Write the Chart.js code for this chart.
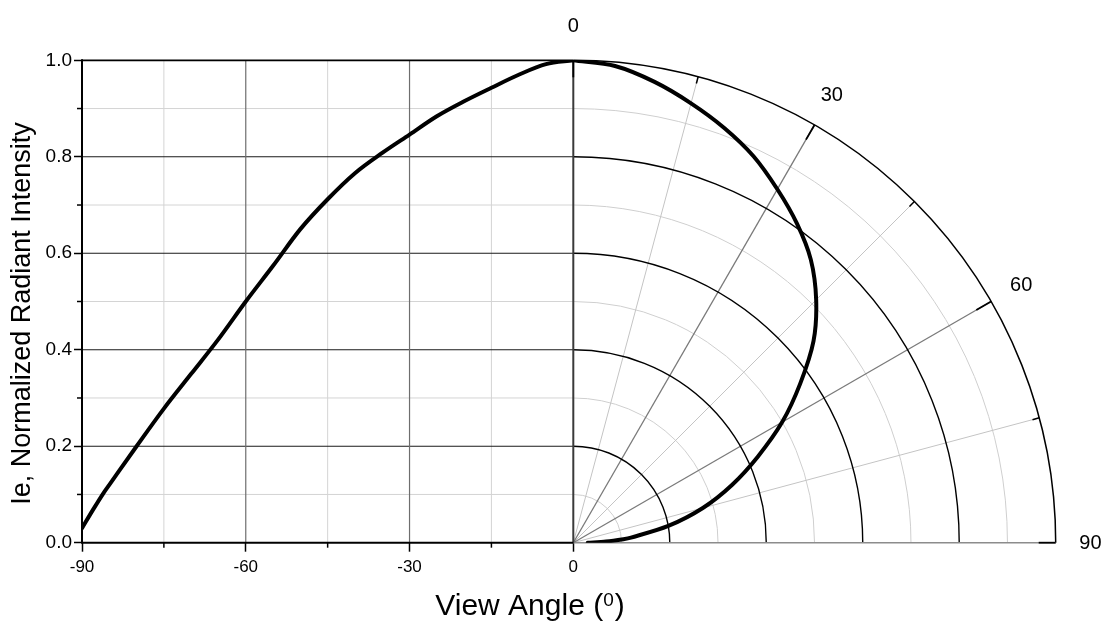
<!DOCTYPE html>
<html>
<head>
<meta charset="utf-8">
<script src="https://cdn.jsdelivr.net/npm/chart.js@4.4.1/dist/chart.umd.min.js"></script>
<style>
  html, body { margin: 0; padding: 0; background: #ffffff; }
  canvas { display: block; }
</style>
</head>
<body>
<canvas id="c" width="1103" height="624"></canvas>
<script>
// ---- data ----
const angles    = [-90, -88, -86, -85, -80, -75, -70, -65, -60, -55, -50, -45, -40, -35, -30, -25, -20, -15, -10, -5, 0];
const intensity = [0.03, 0.068, 0.104, 0.12, 0.20, 0.278, 0.35, 0.422, 0.50, 0.574, 0.65, 0.712, 0.766, 0.808, 0.846, 0.884, 0.915, 0.943, 0.97, 0.992, 1.0];
const xTickValues = [-90, -60, -30, 0];
const xMinorTicks = [-75, -45, -15];
const yTickStep = 0.2;
const polarLabels = ['0', '30', '60', '90'];
const polarLabelAngles = [0, 30, 60, 90];
const yTitle = 'Ie, Normalized Radiant Intensity';
const xTitle = 'View Angle (';
const xTitleSup = '0';
const xTitleEnd = ')';

// ---- layout constants (pixels) ----
const W = 1103, H = 624;
const PX_LEFT = 82, PX_ZERO = 573.3, PX_TOP = 60.3, PX_BOTTOM = 542.7;
const UNIT_PX = PX_BOTTOM - PX_TOP;
const X_MAX = 90 * (W - PX_ZERO) / (PX_ZERO - PX_LEFT);
const XP_MIN = -(PX_ZERO - PX_LEFT) / UNIT_PX;
const XP_MAX = (W - PX_ZERO) / UNIT_PX;
const FONT = '"Liberation Sans", Arial, Helvetica, sans-serif';

const leftCurve = angles.map((a, i) => ({ x: a, y: intensity[i] }));
const polarCurve = angles.slice().reverse().map((a, i) => {
  const r = intensity[angles.length - 1 - i];
  const t = Math.abs(a) * Math.PI / 180;
  return { x: r * Math.sin(t), y: r * Math.cos(t) };
});

const figPlugin = {
  id: 'fig',
  beforeDatasetsDraw(chart) {
    const ctx = chart.ctx;
    const x = chart.scales.x, y = chart.scales.y, xp = chart.scales.xp;
    const X0 = x.getPixelForValue(0), XL = x.getPixelForValue(-90);
    const YB = y.getPixelForValue(0), YT = y.getPixelForValue(1);
    ctx.save();
    const line = (x1, y1, x2, y2, color, w) => {
      ctx.beginPath(); ctx.strokeStyle = color; ctx.lineWidth = w;
      ctx.moveTo(x1, y1); ctx.lineTo(x2, y2); ctx.stroke();
    };
    // left cartesian grid
    for (let k = 1; k < 10; k += 2) {
      const py = y.getPixelForValue(k / 10);
      line(XL, py, X0, py, '#d4d4d4', 1);
    }
    for (const v of xMinorTicks) {
      const px = x.getPixelForValue(v);
      line(px, YT, px, YB, '#d4d4d4', 1);
    }
    for (let k = 2; k < 10; k += 2) {
      const py = y.getPixelForValue(k / 10);
      line(XL, py, X0, py, '#1a1a1a', 1.1);
    }
    for (const v of [-60, -30]) {
      const px = x.getPixelForValue(v);
      line(px, YT, px, YB, '#6e6e6e', 1.2);
    }
    // polar grid
    const cx = xp.getPixelForValue(0), cy = y.getPixelForValue(0);
    const R = r => cy - y.getPixelForValue(r);
    const ray = (deg, r0, r1, color, w) => {
      const t = deg * Math.PI / 180;
      line(cx + R(r0) * Math.sin(t), cy - R(r0) * Math.cos(t),
           cx + R(r1) * Math.sin(t), cy - R(r1) * Math.cos(t), color, w);
    };
    for (let k = 1; k < 10; k += 2) {
      ctx.beginPath(); ctx.strokeStyle = '#cfcfcf'; ctx.lineWidth = 1;
      ctx.arc(cx, cy, R(k / 10), -Math.PI / 2, 0); ctx.stroke();
    }
    for (const d of [15, 45, 75]) ray(d, 0, 1, '#c4c4c4', 1);
    for (const d of [30, 60]) ray(d, 0, 1, '#7a7a7a', 1.3);
    for (let k = 2; k <= 10; k += 2) {
      ctx.beginPath(); ctx.strokeStyle = '#000'; ctx.lineWidth = k === 10 ? 1.5 : 1.4;
      ctx.arc(cx, cy, R(k / 10), -Math.PI / 2, 0); ctx.stroke();
    }
    // polar base line (90 deg) and 0 deg line
    line(cx, cy, cx + R(1), cy, '#8c8c8c', 1.5);
    line(cx, cy, cx, cy - R(1), '#3a3a3a', 2);
    // polar ticks on outer arc
    const tickIn = (deg, len, w) => {
      const t = deg * Math.PI / 180, ro = R(1), ri = R(1) - len;
      line(cx + ro * Math.sin(t), cy - ro * Math.cos(t), cx + ri * Math.sin(t), cy - ri * Math.cos(t), '#000', w);
    };
    for (const d of [15, 45, 75]) tickIn(d, 7, 1.5);
    for (const d of [0, 30, 60, 90]) tickIn(d, 17, 1.8);
    // left axes
    line(XL, YT, X0, YT, '#000', 1.8);
    line(XL, YB, X0, YB, '#000', 2);
    line(XL, YT - 1, XL, YB + 1, '#000', 2);
    // minor ticks
    for (const v of xMinorTicks) {
      const px = x.getPixelForValue(v);
      line(px, YB, px, YB + 5, '#000', 1.5);
    }
    for (let k = 1; k < 10; k += 2) {
      const py = y.getPixelForValue(k / 10);
      line(XL, py, XL - 5, py, '#000', 1.5);
    }
    ctx.restore();
  },
  afterDraw(chart) {
    const ctx = chart.ctx;
    const y = chart.scales.y, xp = chart.scales.xp;
    const cx = xp.getPixelForValue(0), cy = y.getPixelForValue(0);
    const R = r => cy - y.getPixelForValue(r);
    ctx.save();
    ctx.fillStyle = '#000';
    // polar angle labels
    ctx.font = '20px ' + FONT;
    ctx.textAlign = 'center'; ctx.textBaseline = 'middle';
    polarLabels.forEach((lab, i) => {
      const t = polarLabelAngles[i] * Math.PI / 180, rr = R(1.072);
      ctx.fillText(lab, cx + rr * Math.sin(t), cy - rr * Math.cos(t) + 1);
    });
    // y title
    ctx.save();
    ctx.translate(23, 313.5);
    ctx.rotate(-Math.PI / 2);
    ctx.font = '27px ' + FONT;
    ctx.textAlign = 'center'; ctx.textBaseline = 'middle';
    ctx.fillText(yTitle, 0, 0);
    ctx.restore();
    // x title with superscript
    ctx.textAlign = 'left'; ctx.textBaseline = 'alphabetic';
    const big = '30px ' + FONT, small = '19px ' + FONT;
    ctx.font = big; const w1 = ctx.measureText(xTitle).width; const w3 = ctx.measureText(xTitleEnd).width;
    ctx.font = small; const w2 = ctx.measureText(xTitleSup).width;
    const total = w1 + w2 + w3 + 1;
    let sx = 530 - total / 2; const base = 615;
    ctx.font = big; ctx.fillText(xTitle, sx, base); sx += w1;
    ctx.font = small; ctx.fillText(xTitleSup, sx, base - 9); sx += w2 + 1;
    ctx.font = big; ctx.fillText(xTitleEnd, sx, base);
    ctx.restore();
  }
};

new Chart(document.getElementById('c'), {
  type: 'scatter',
  data: {
    datasets: [
      { data: leftCurve, xAxisID: 'x', yAxisID: 'y', showLine: true, borderColor: '#000', borderWidth: 4,
        pointRadius: 0, cubicInterpolationMode: 'monotone', borderCapStyle: 'round', borderJoinStyle: 'round' },
      { data: polarCurve, xAxisID: 'xp', yAxisID: 'y', showLine: true, borderColor: '#000', borderWidth: 4,
        pointRadius: 0, tension: 0.3, borderCapStyle: 'round', borderJoinStyle: 'round' }
    ]
  },
  options: {
    responsive: false,
    animation: false,
    devicePixelRatio: 1,
    layout: { padding: { top: PX_TOP, right: 0, bottom: 0, left: 0 } },
    plugins: { legend: { display: false }, tooltip: { enabled: false } },
    scales: {
      x: {
        type: 'linear', position: 'bottom', min: -90, max: X_MAX,
        afterFit: s => { s.height = H - PX_BOTTOM; },
        afterBuildTicks: s => { s.ticks = xTickValues.map(v => ({ value: v })); },
        ticks: { color: '#000', font: { family: FONT, size: 17 }, padding: 5, maxRotation: 0, autoSkip: false,
                 callback: v => String(v) },
        grid: { display: true, drawOnChartArea: false, drawTicks: true, tickLength: 9, tickColor: '#000', tickWidth: 1.5 },
        border: { display: false }
      },
      xp: {
        type: 'linear', display: false, position: 'bottom', min: XP_MIN, max: XP_MAX
      },
      y: {
        type: 'linear', position: 'left', min: 0, max: 1,
        afterFit: s => { s.width = PX_LEFT; },
        ticks: { stepSize: yTickStep, color: '#000', font: { family: FONT, size: 19 }, padding: 2,
                 callback: v => Number(v).toFixed(1) },
        grid: { display: true, drawOnChartArea: false, drawTicks: true, tickLength: 8, tickColor: '#000', tickWidth: 1.5 },
        border: { display: false }
      }
    }
  },
  plugins: [figPlugin]
});
</script>
</body>
</html>
